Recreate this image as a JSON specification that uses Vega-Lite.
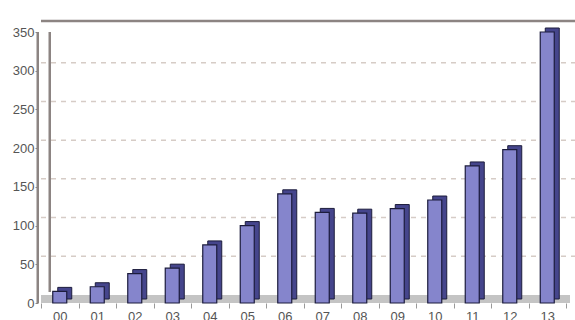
{
  "$schema": "https://vega.github.io/schema/vega-lite/v6.json",
  "autosize": {"type": "none"},
  "width": 525,
  "height": 271,
  "padding": {"left": 41, "top": 32, "right": 9, "bottom": 17},
  "background": "white",
  "config": {"view": {"stroke": null}, "font": "Liberation Sans"},
  "data": {
    "values": [
      {"year": "00", "value": 15},
      {"year": "01", "value": 21},
      {"year": "02", "value": 38},
      {"year": "03", "value": 45},
      {"year": "04", "value": 75},
      {"year": "05", "value": 100},
      {"year": "06", "value": 141},
      {"year": "07", "value": 117},
      {"year": "08", "value": 116},
      {"year": "09", "value": 122},
      {"year": "10", "value": 133},
      {"year": "11", "value": 177},
      {"year": "12", "value": 198},
      {"year": "13", "value": 350}
    ]
  },
  "layer": [
    {
      "data": {"values": [{"g": 50}, {"g": 100}, {"g": 150}, {"g": 200}, {"g": 250}, {"g": 300}]},
      "mark": {"type": "rule", "color": "#d6ccc6", "strokeWidth": 1.5, "strokeDash": [5, 5], "xOffset": 10, "yOffset": -8},
      "encoding": {
        "y": {"field": "g", "type": "quantitative", "scale": {"domain": [0, 350]}}
      }
    },
    {
      "data": {"values": [{"g": 350}]},
      "mark": {"type": "rule", "color": "#8c8482", "strokeWidth": 2.5, "xOffset": 10, "yOffset": -11},
      "encoding": {
        "y": {"field": "g", "type": "quantitative", "scale": {"domain": [0, 350]}}
      }
    },
    {
      "data": {"values": [{"g": 0}]},
      "mark": {"type": "rule", "color": "#c4c4c4", "strokeWidth": 8, "xOffset": 4, "yOffset": -4},
      "encoding": {
        "y": {"field": "g", "type": "quantitative", "scale": {"domain": [0, 350]}}
      }
    },
    {
      "data": {"values": [{"year": "00", "lo": 0, "hi": 350}]},
      "mark": {"type": "rule", "color": "#8c8482", "strokeWidth": 2.5, "xOffset": -10, "yOffset": -11},
      "encoding": {
        "x": {"field": "year", "type": "nominal"},
        "y": {"field": "lo", "type": "quantitative", "scale": {"domain": [0, 350]}},
        "y2": {"field": "hi"}
      }
    },
    {
      "data": {"values": [{"year": "00", "lo": 0, "hi": 350}]},
      "mark": {"type": "rule", "color": "#8c8482", "strokeWidth": 2.5, "xOffset": -22},
      "encoding": {
        "x": {"field": "year", "type": "nominal"},
        "y": {"field": "lo", "type": "quantitative", "scale": {"domain": [0, 350]}},
        "y2": {"field": "hi"}
      }
    },
    {
      "mark": {"type": "bar", "width": 14, "color": "#45458c", "stroke": "#1c1c3c", "strokeWidth": 1, "xOffset": 5, "yOffset": -4},
      "encoding": {
        "x": {"field": "year", "type": "nominal"},
        "y": {"field": "value", "type": "quantitative", "scale": {"domain": [0, 350]}}
      }
    },
    {
      "mark": {"type": "bar", "width": 14, "color": "#8585cc", "stroke": "#1c1c3c", "strokeWidth": 1.2},
      "encoding": {
        "x": {"field": "year", "type": "nominal"},
        "y": {"field": "value", "type": "quantitative", "scale": {"domain": [0, 350]}}
      }
    }
  ],
  "encoding": {
    "x": {
      "title": null,
      "axis": {
        "domain": false, "labelAngle": 0, "labelFontSize": 13, "labelColor": "#555555",
        "tickBand": "extent", "tickColor": "#999999", "tickSize": 5, "labelPadding": 2
      }
    },
    "y": {
      "title": null,
      "axis": {
        "values": [0, 50, 100, 150, 200, 250, 300, 350],
        "grid": false, "domain": false, "offset": 3,
        "tickColor": "#8c8482", "tickSize": 3, "labelFontSize": 13, "labelColor": "#555555",
        "labelPadding": 1
      }
    }
  }
}
